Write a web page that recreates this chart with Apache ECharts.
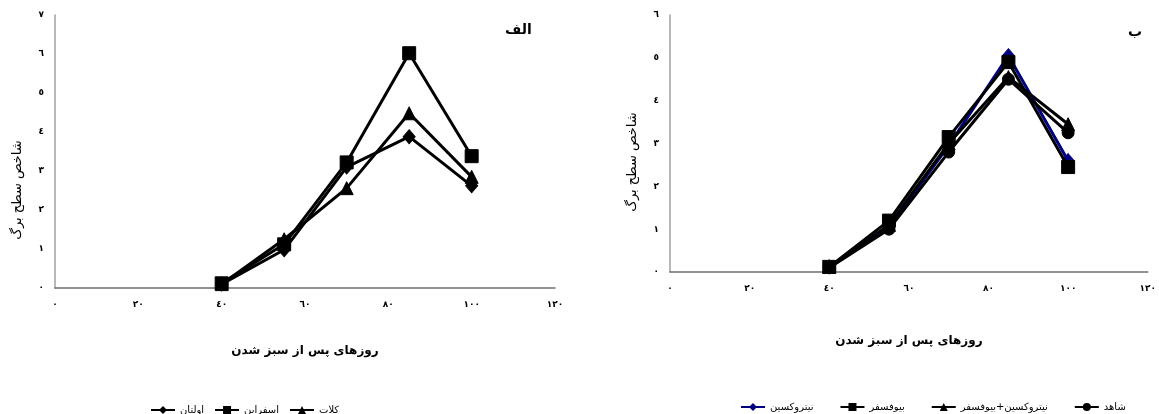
<!DOCTYPE html>
<html>
<head>
<meta charset="utf-8">
<script src="https://cdn.jsdelivr.net/npm/echarts@6/dist/echarts.min.js"></script>
<style>
html,body{margin:0;padding:0;background:#fff;}
#c{width:1159px;height:414px;}
</style>
</head>
<body>
<div id="c"></div>
<script>
// ---- data ----
var days = [40, 55, 70, 85, 100];
var faDigits = ['٠','١','٢','٣','٤','٥','٦','٧','٨','٩'];

// panel الف
var leftNames = ['اولتان', 'اسفراین', 'کلات'];
var oltan    = [0.10, 0.98, 3.10, 3.88, 2.62];
var esfarayen = [0.12, 1.12, 3.22, 6.02, 3.38];
var kalat    = [0.10, 1.25, 2.56, 4.48, 2.85];

// panel ب
var rightNames = ['نیتروکسین', 'بیوفسفر', 'نیتروکسین+بیوفسفر', 'شاهد'];
var nitroxin = [0.12, 1.05, 2.95, 5.05, 2.60];
var biophos  = [0.12, 1.20, 3.15, 4.90, 2.45];
var combo    = [0.12, 1.10, 3.00, 4.55, 3.45];
var control  = [0.10, 1.00, 2.80, 4.50, 3.25];

var yName = 'شاخص سطح برگ';
var xName = 'روزهای پس از سبز شدن';
var titleA = 'الف';
var titleB = 'ب';

function toFa(v){
  return String(v).split('').map(function(ch){
    return (ch >= '0' && ch <= '9') ? faDigits[+ch] : ch;
  }).join('');
}
function pairs(ys){ return days.map(function(d,i){ return [d, ys[i]]; }); }

var FONT = '"DejaVu Sans", sans-serif';

function xAxisCfg(gi, gap){
  return {
    type:'value', gridIndex:gi, min:0, max:120, interval:20,
    name: xName, nameLocation:'middle', nameGap: gap,
    nameTextStyle:{fontFamily:FONT, fontSize:12, fontWeight:'bold', color:'#000'},
    axisLine:{show:true, onZero:false, lineStyle:{color:'#6e6e6e', width:1.5}},
    axisTick:{show:false},
    splitLine:{show:false},
    axisLabel:{formatter:toFa, fontFamily:FONT, fontSize:9, fontWeight:'bold', color:'#000', margin:12}
  };
}
function yAxisCfg(gi, max){
  return {
    type:'value', gridIndex:gi, min:0, max:max, interval:1,
    axisLine:{show:true, lineStyle:{color:'#a0a0a0', width:1.5}},
    axisTick:{show:false},
    splitLine:{show:false},
    axisLabel:{formatter:toFa, fontFamily:FONT, fontSize:9, fontWeight:'bold', color:'#000', margin:11}
  };
}
function lineSeries(name, data, xi, symbol, size, color, z){
  return {
    type:'line', name:name, xAxisIndex:xi, yAxisIndex:xi,
    data: pairs(data), symbol:symbol, symbolSize:size, z:z,
    lineStyle:{color:color, width:3},
    itemStyle:{color:color, borderColor:color},
    emphasis:{disabled:true}, animation:false
  };
}
function yTitle(x, y){
  return {
    type:'text', x:x, y:y, rotation:Math.PI/2,
    style:{text:yName, font:'13px ' + FONT, fill:'#000', textAlign:'center', textVerticalAlign:'middle'}
  };
}

var chart = echarts.init(document.getElementById('c'), null, {renderer:'canvas'});
chart.setOption({
  backgroundColor:'#fff',
  animation:false,
  title:[
    {text:titleA, left:500, top:18, textStyle:{fontFamily:FONT, fontSize:14, fontWeight:'bold', color:'#000'}},
    {text:titleB, right:12, top:20, textStyle:{fontFamily:FONT, fontSize:14, fontWeight:'bold', color:'#000'}}
  ],
  grid:[
    {left:55, top:15, width:500, height:273},
    {left:670, top:15, width:480, height:257}
  ],
  xAxis:[xAxisCfg(0, 57), xAxisCfg(1, 63)],
  yAxis:[yAxisCfg(0, 7), yAxisCfg(1, 6)],
  graphic:[yTitle(18, 190), yTitle(633, 162)],
  legend:[
    {data:leftNames, left:145, top:400, itemWidth:24, itemHeight:10, itemGap:10,
     textStyle:{fontFamily:FONT, fontSize:10, color:'#000'}},
    {data:rightNames, left:735, top:397, itemWidth:24, itemHeight:10, itemGap:26,
     textStyle:{fontFamily:FONT, fontSize:10, color:'#000'}}
  ],
  series:[
    lineSeries(leftNames[0], oltan, 0, 'diamond', [12,14], '#000', 3),
    lineSeries(leftNames[1], esfarayen, 0, 'rect', 13, '#000', 4),
    lineSeries(leftNames[2], kalat, 0, 'triangle', 13, '#000', 2),
    lineSeries(rightNames[0], nitroxin, 1, 'diamond', [12,14], '#000080', 2),
    lineSeries(rightNames[1], biophos, 1, 'rect', 13, '#000', 5),
    lineSeries(rightNames[2], combo, 1, 'triangle', 13, '#000', 4),
    lineSeries(rightNames[3], control, 1, 'circle', 12, '#000', 3)
  ]
});
</script>
</body>
</html>
